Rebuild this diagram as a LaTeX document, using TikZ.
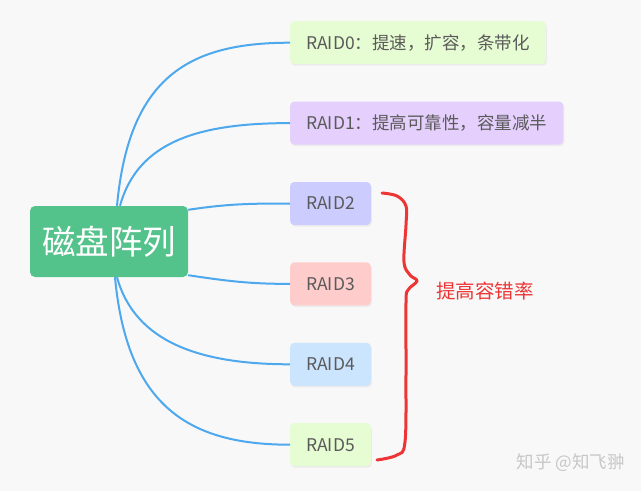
\documentclass[tikz,border=0pt]{standalone}
\usepackage{fontspec}
\setmainfont{Noto Sans CJK SC}
\usetikzlibrary{positioning,shadows}
\definecolor{bgcol}{HTML}{F8F8F8}
\definecolor{rootcol}{HTML}{53C28B}
\definecolor{linkcol}{HTML}{4DA8EE}
\definecolor{greencol}{HTML}{E6FCD2}
\definecolor{purplecol}{HTML}{E5CFFD}
\definecolor{bluecol}{HTML}{CCCCFF}
\definecolor{pinkcol}{HTML}{FFCCCC}
\definecolor{skycol}{HTML}{CCE5FF}
\definecolor{textcol}{HTML}{5A5A5A}
\definecolor{bracecol}{HTML}{EE3535}

\begin{document}
\begin{tikzpicture}[x=1pt, y=-1pt, font=\fontsize{17.5}{21}\selectfont]
\tikzstyle{raid}=[rounded corners=4pt, minimum height=43pt, minimum width=80pt, inner xsep=16pt, text=textcol, anchor=north west, drop shadow={shadow xshift=1pt, shadow yshift=-1.5pt, fill=black!12}]
\tikzstyle{link}=[draw=linkcol, line width=2pt]
\fill[bgcol] (0,0) rectangle (641,491);
\useasboundingbox (0,0) rectangle (641,491);
% root
\node[fill=rootcol, rounded corners=5pt, minimum width=158pt, minimum height=71pt, text=white, font=\fontsize{33.5}{36}\selectfont] (root) at (109,241.5) {磁盘阵列};
% levels
\node[raid, fill=greencol] (r0) at (290,21) {RAID0：提速，扩容，条带化};
\node[raid, fill=purplecol, below=37pt of r0.south west, anchor=north west] (r1) {RAID1：提高可靠性，容量减半};
\node[raid, fill=bluecol, below=37pt of r1.south west, anchor=north west] (r2) {RAID2};
\node[raid, fill=pinkcol, below=37pt of r2.south west, anchor=north west] (r3) {RAID3};
\node[raid, fill=skycol, below=37pt of r3.south west, anchor=north west] (r4) {RAID4};
\node[raid, fill=greencol, below=37pt of r4.south west, anchor=north west] (r5) {RAID5};
% connectors
\draw[link] ([xshift=8pt]root.north) .. controls +(12,-130) and +(-100,0) .. (r0.west);
\draw[link] ([xshift=11pt]root.north) .. controls +(18,-65) and +(-90,0) .. (r1.west);
\draw[link] ([yshift=-4pt]root.north east) .. controls +(40,-6) and +(-40,0) .. (r2.west);
\draw[link] ([yshift=2pt]root.south east) .. controls +(40,6) and +(-40,0) .. (r3.west);
\draw[link] ([xshift=8pt]root.south) .. controls +(18,65) and +(-90,0) .. (r4.west);
\draw[link] ([xshift=6pt]root.south) .. controls +(12,130) and +(-100,0) .. (r5.west);
% brace
\coordinate (tip) at (417,281);
\draw[bracecol, line width=3pt, line cap=round, line join=round] plot[smooth, tension=0.6] coordinates {(382,193) (397,196) (406,206) (406,225) (404,262) (410,275) (tip) (408,290) (406,303) (406,375) (405,442) (397,455) (377,460)};
\node[anchor=west, text=bracecol, font=\fontsize{19.5}{22}\selectfont, inner sep=0pt] (tag) at ([xshift=19pt, yshift=-10pt]tip) {提高容错率};
% watermark
\node[anchor=east, text=black!22, inner sep=0pt] (mark) at (625,463) {知乎 @知飞翀};
\end{tikzpicture}
\end{document}
